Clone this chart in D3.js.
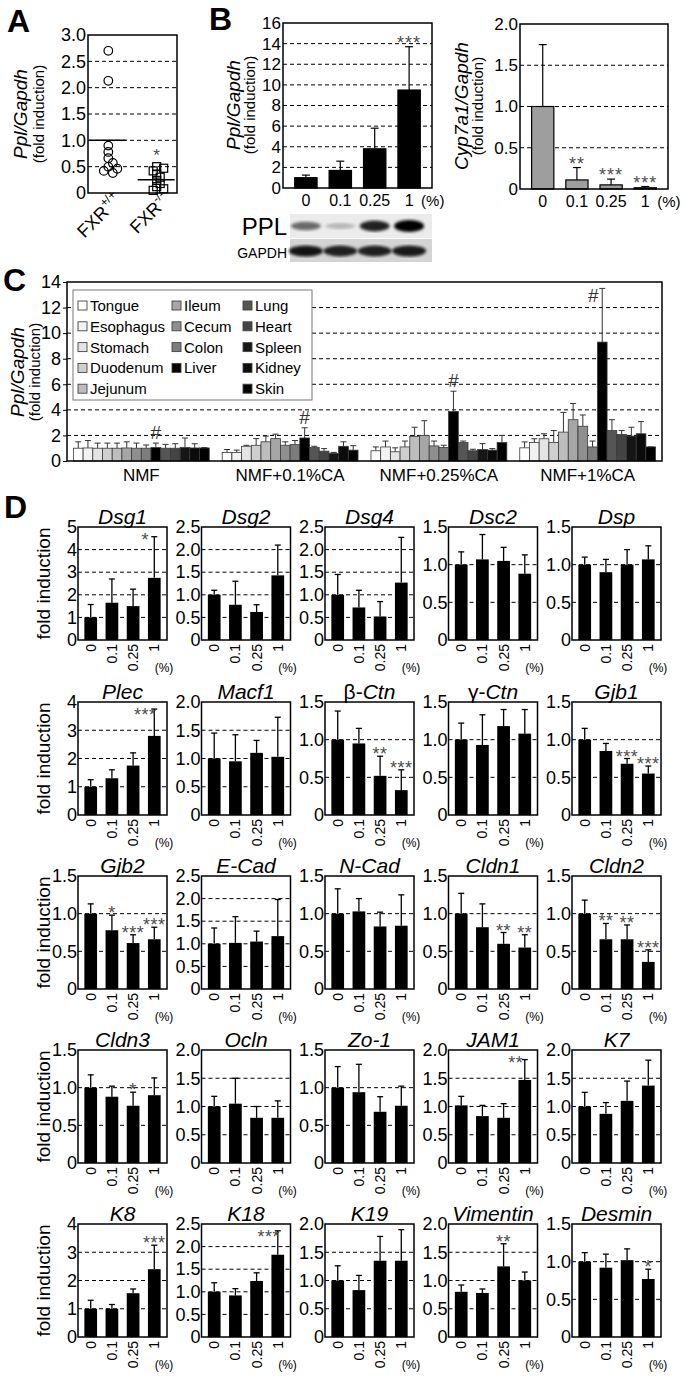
<!DOCTYPE html>
<html><head><meta charset="utf-8">
<script src="https://cdn.jsdelivr.net/npm/d3@7"></script>
<style>
body{margin:0;background:#fff;}
svg{display:block;font-family:"Liberation Sans",Arial,sans-serif;}
</style></head><body>
<svg id="fig" width="685" height="1377"></svg>
<script>
// ---------------- DATA ----------------
// Panel A
const fxrGenotypes = ["FXR+/+", "FXR-/-"];
const fxrWT = [2.7, 2.13, 0.9, 0.78, 0.66, 0.57, 0.5, 0.46, 0.42, 0.38];
const fxrKO = [0.5, 0.47, 0.42, 0.36, 0.3, 0.24, 0.18, 0.12, 0.08, 0.05];
const fxrMean = [1.0, 0.25];
const fxrStars = ["", "*"];
const fxrTicks = [0, 0.5, 1.0, 1.5, 2.0, 2.5, 3.0];

// Panel B
const caDoses = ["0", "0.1", "0.25", "1"];
const pplMean = [1.0, 1.7, 3.8, 9.5];
const pplErr = [1.25, 2.6, 5.8, 13.7];
const pplStars = ["", "", "", "***"];
const pplTicks = [0, 2, 4, 6, 8, 10, 12, 14, 16];
const cypMean = [1.0, 0.11, 0.05, 0.015];
const cypErr = [1.75, 0.26, 0.12, 0.03];
const cypStars = ["", "**", "***", "***"];
const cypTicks = [0, 0.5, 1.0, 1.5, 2.0];
const blotPPL = [0.55, 0.22, 0.85, 1.0];
const blotGAPDH = [0.9, 0.85, 0.85, 0.88];

// Panel C
const tissues = ["Tongue","Esophagus","Stomach","Duodenum","Jejunum","Ileum","Cecum","Colon","Liver","Lung","Heart","Spleen","Kidney","Skin"];
const tissueColors = ["#ffffff","#f2f2f2","#e4e4e4","#cfcfcf","#bdbdbd","#a6a6a6","#8f8f8f","#7d7d7d","#000000","#555555","#444444","#161616","#0b0b0b","#000000"];
const dietGroups = ["NMF","NMF+0.1%CA","NMF+0.25%CA","NMF+1%CA"];
const tissueNMF    = [1.0,1.02,1.0,1.0,1.0,1.02,1.0,1.0,1.05,1.0,1.0,1.05,1.02,1.02];
const tissueNMFErr = [1.5,1.6,1.4,1.4,1.4,1.5,1.4,1.25,1.4,1.3,1.35,1.8,1.35,1.05];
const tissueCA01    = [0.67,0.67,1.15,1.23,1.5,1.75,1.23,1.28,1.8,1.05,0.77,0.6,1.15,0.85];
const tissueCA01Err = [0.9,0.85,1.23,1.75,1.95,2.1,1.5,1.6,2.6,1.15,0.97,0.67,1.5,1.2];
const tissueCA025    = [0.8,1.1,0.72,1.1,1.92,2.0,1.18,1.05,3.87,1.44,0.8,0.9,0.85,1.44];
const tissueCA025Err = [1.1,1.56,1.03,1.56,2.64,3.15,1.56,1.23,5.46,1.56,0.92,1.36,0.97,2.0];
const tissueCA1    = [1.03,1.44,1.74,1.44,2.26,3.23,2.72,1.1,9.3,2.38,2.08,1.95,2.13,1.1];
const tissueCA1Err = [1.49,1.74,2.13,2.38,3.8,4.5,3.6,1.56,13.5,3.23,2.38,2.64,3.08,1.1];
const hashTissue = ["Liver","Liver","Liver","Liver"];
const tissueTicks = [0,2,4,6,8,10,12,14];

// Panel D
const geneNames = ["Dsg1","Dsg2","Dsg4","Dsc2","Dsp","Plec","Macf1","β-Ctn","γ-Ctn","Gjb1","Gjb2","E-Cad","N-Cad","Cldn1","Cldn2","Cldn3","Ocln","Zo-1","JAM1","K7","K8","K18","K19","Vimentin","Desmin"];
const geneYMax = [5,2.5,2.5,1.5,1.5, 4,2,1.5,1.5,1.5, 1.5,2.5,1.5,1.5,1.5, 1.5,2,1.5,2,2, 4,2.5,2,2,1.5];
const geneMeans = [
  [1.0,1.65,1.5,2.75],[1.0,0.78,0.62,1.43],[1.0,0.72,0.52,1.27],[1.0,1.07,1.05,0.88],[1.0,0.9,1.0,1.07],
  [1.0,1.3,1.75,2.8],[1.0,0.95,1.1,1.03],[1.0,0.95,0.52,0.33],[1.0,0.93,1.18,1.08],[1.0,0.85,0.68,0.55],
  [1.0,0.78,0.61,0.66],[1.0,1.02,1.05,1.17],[1.0,1.03,0.83,0.84],[1.0,0.82,0.6,0.55],[1.0,0.66,0.66,0.36],
  [1.0,0.88,0.76,0.9],[1.0,1.05,0.8,0.8],[1.0,0.94,0.68,0.76],[1.02,0.83,0.8,1.47],[1.0,0.87,1.1,1.37],
  [1.0,1.0,1.55,2.4],[1.0,0.92,1.24,1.82],[1.0,0.83,1.35,1.35],[0.8,0.78,1.25,1.0],[1.0,0.92,1.02,0.77]
];
const geneErrs = [
  [1.57,2.7,2.25,4.57],[1.1,1.3,0.78,2.1],[1.45,1.1,0.85,2.27],[1.17,1.4,1.23,1.13],[1.1,1.07,1.2,1.25],
  [1.25,1.6,2.2,3.75],[1.45,1.42,1.32,1.73],[1.38,1.15,0.78,0.6],[1.22,1.33,1.4,1.4],[1.15,0.95,0.75,0.65],
  [1.13,0.98,0.72,0.82],[1.35,1.6,1.28,1.98],[1.33,1.2,1.02,1.25],[1.27,1.13,0.75,0.72],[1.18,0.87,0.85,0.52],
  [1.17,1.02,0.94,1.13],[1.18,1.5,1.0,1.1],[1.28,1.31,0.88,1.02],[1.18,1.02,1.05,1.83],[1.25,1.07,1.45,1.82],
  [1.3,1.15,1.7,3.25],[1.2,1.07,1.42,2.35],[1.26,1.09,1.78,1.9],[0.92,0.85,1.65,1.15],[1.12,1.1,1.17,0.9]
];
const geneStars = [
  ["","","","*"],["","","",""],["","","",""],["","","",""],["","","",""],
  ["","","","***"],["","","",""],["","","**","***"],["","","",""],["","","***","***"],
  ["","*","***","***"],["","","",""],["","","",""],["","","**","**"],["","**","**","***"],
  ["","","*",""],["","","",""],["","","",""],["","","","**"],["","","",""],
  ["","","","***"],["","","","***"],["","","",""],["","","**",""],["","","","*"]
];

// ---------------- HELPERS ----------------
const svg = d3.select("#fig");
const DASH = "4,3";
const STAR = "#4d4d4d";

function panelLabel(t, x, y) {
  svg.append("text").attr("x", x).attr("y", y).attr("font-size", 32).attr("font-weight", "bold").text(t);
}
function drawFrame(g, w, h) {
  g.append("rect").attr("width", w).attr("height", h).attr("fill", "none").attr("stroke", "#000").attr("stroke-width", 1.5);
}
function drawGrid(g, y, vals, w) {
  g.selectAll(null).data(vals).join("line")
    .attr("x1", 0).attr("x2", w).attr("y1", d => y(d)).attr("y2", d => y(d))
    .attr("stroke", "#000").attr("stroke-width", 1).attr("stroke-dasharray", DASH);
}
function yAxis(g, y, ticks, fmt, size, tickSize) {
  const ax = g.append("g").call(d3.axisLeft(y).tickValues(ticks).tickFormat(fmt).tickSize(tickSize).tickPadding(2));
  ax.select(".domain").remove();
  ax.selectAll("text").attr("font-size", size).attr("fill", "#000").attr("font-family", null);
  ax.selectAll("line").attr("stroke", "#000");
  return ax;
}
const fmtDec = v => v === 0 ? "0" : d3.format(".1f")(v);
const fmtInt = v => d3.format("d")(v);

function yTitle(x, y, main, sub, mainSize, subSize, gap) {
  const g = svg.append("g").attr("transform", `translate(${x},${y}) rotate(-90)`);
  g.append("text").attr("text-anchor", "middle").attr("font-size", mainSize).attr("font-style", "italic").attr("y", 0).text(main);
  if (sub) g.append("text").attr("text-anchor", "middle").attr("font-size", subSize).attr("y", gap).text(sub);
}

// ---------------- PANEL A ----------------
panelLabel("A", 7, 32);
{
  const W = 89, H = 158;
  const g = svg.append("g").attr("transform", "translate(88,35)");
  const y = d3.scaleLinear().domain([0, 3]).range([H, 0]);
  const x = d3.scalePoint().domain(fxrGenotypes).range([0, W]).padding(0.42);
  drawGrid(g, y, [0.5, 1.0, 1.5, 2.0, 2.5], W);
  yAxis(g, y, fxrTicks, fmtDec, 18, 0);
  g.selectAll(null).data(fxrGenotypes).join("line")
    .attr("x1", d => x(d) - 19).attr("x2", d => x(d) + 18)
    .attr("y1", (d, i) => y(fxrMean[i])).attr("y2", (d, i) => y(fxrMean[i]))
    .attr("stroke", "#000").attr("stroke-width", 1.5);
  function swarm(vals, spread, thr) {
    const placed = [];
    return vals.map(v => {
      const py = y(v);
      const cands = [0];
      for (let k = 1; k < 6; k++) cands.push(k * spread, -k * spread);
      let dx = 0;
      for (const c of cands) {
        if (placed.every(p => Math.hypot(p.x - c, p.y - py) >= thr)) { dx = c; break; }
      }
      placed.push({ x: dx, y: py });
      return { v, dx, py };
    });
  }
  const wt = swarm(fxrWT, 4.5, 5.8);
  g.selectAll(null).data(wt).join("circle")
    .attr("cx", d => x(fxrGenotypes[0]) + d.dx).attr("cy", d => d.py).attr("r", 4.3)
    .attr("fill", "none").attr("stroke", "#000").attr("stroke-width", 1.2);
  const ko = swarm(fxrKO, 3.5, 4.6);
  g.selectAll(null).data(ko).join("rect")
    .attr("x", d => x(fxrGenotypes[1]) + d.dx - 4).attr("y", d => d.py - 4).attr("width", 8).attr("height", 8)
    .attr("fill", "none").attr("stroke", "#000").attr("stroke-width", 1.2);
  g.selectAll(null).data(fxrGenotypes).join("text")
    .attr("x", d => x(d)).attr("y", (d, i) => y(d3.max(i ? fxrKO : fxrWT)) - 6)
    .attr("text-anchor", "middle").attr("font-size", 17).attr("fill", STAR)
    .text((d, i) => fxrStars[i]);
  drawFrame(g, W, H);
  fxrGenotypes.forEach(d => {
    const t = g.append("text").attr("transform", `translate(${x(d) + 14},${H + 8}) rotate(-45)`)
      .attr("text-anchor", "end").attr("font-size", 18);
    t.append("tspan").text(d.slice(0, 3));
    t.append("tspan").attr("font-size", 12).attr("dy", -8).text(d.slice(3));
  });
  yTitle(27, 114, "Ppl/Gapdh", "(fold induction)", 19, 15, 17);
}

// ---------------- PANEL B ----------------
panelLabel("B", 209, 30);
function barPanel(tx, ty, W, H, yMax, ticks, fmt, means, errs, stars, fill) {
  const g = svg.append("g").attr("transform", `translate(${tx},${ty})`);
  const y = d3.scaleLinear().domain([0, yMax]).range([H, 0]);
  const x = d3.scaleBand().domain(caDoses).range([0, W]).paddingInner(0.35).paddingOuter(0.34);
  drawGrid(g, y, ticks.slice(1, -1), W);
  yAxis(g, y, ticks, fmt, 17, 0);
  const cx = d => x(d) + x.bandwidth() / 2;
  g.selectAll(null).data(caDoses).join("line")
    .attr("x1", cx).attr("x2", cx)
    .attr("y1", (d, i) => y(means[i])).attr("y2", (d, i) => y(errs[i]))
    .attr("stroke", "#000").attr("stroke-width", 1.2);
  g.selectAll(null).data(caDoses).join("line")
    .attr("x1", d => cx(d) - 4).attr("x2", d => cx(d) + 4)
    .attr("y1", (d, i) => y(errs[i])).attr("y2", (d, i) => y(errs[i]))
    .attr("stroke", "#000").attr("stroke-width", 1.2);
  g.selectAll(null).data(caDoses).join("rect")
    .attr("x", d => x(d)).attr("width", x.bandwidth())
    .attr("y", (d, i) => y(means[i])).attr("height", (d, i) => H - y(means[i]))
    .attr("fill", fill).attr("stroke", "#000").attr("stroke-width", 1.2);
  g.selectAll(null).data(caDoses).join("text")
    .attr("x", cx).attr("y", (d, i) => Math.max(y(errs[i]) + 2, 17))
    .attr("text-anchor", "middle").attr("font-size", 18).attr("letter-spacing", 1).attr("fill", STAR)
    .text((d, i) => stars[i]);
  drawFrame(g, W, H);
  g.selectAll(null).data(caDoses).join("text")
    .attr("x", cx).attr("y", H + 18)
    .attr("text-anchor", "middle").attr("font-size", 16).text(d => d);
  g.append("text").attr("x", cx(caDoses[3]) + 12).attr("y", H + 18)
    .attr("font-size", 15).text("(%)");
  return { g, x };
}
const bL = barPanel(283, 23, 149, 165, 16, pplTicks, fmtInt, pplMean, pplErr, pplStars, "#000");
yTitle(240, 105, "Ppl/Gapdh", "(fold induction)", 19, 15, 15);
const bR = barPanel(520, 24, 148, 165, 2.0, cypTicks, fmtDec, cypMean, cypErr, cypStars, "#9e9e9e");
yTitle(468, 106, "Cyp7a1/Gapdh", "(fold induction)", 19, 15, 15);

// western blot
{
  const defs = svg.append("defs");
  defs.append("filter").attr("id", "blur").append("feGaussianBlur").attr("stdDeviation", 1.6);
  const g = svg.append("g");
  g.append("rect").attr("x", 290).attr("y", 214).attr("width", 142).attr("height", 24).attr("fill", "#ebebeb");
  g.append("rect").attr("x", 290).attr("y", 239).attr("width", 142).attr("height", 23).attr("fill", "#d4d4d4");
  const cx = d => 283 + bL.x(d) + bL.x.bandwidth() / 2;
  g.selectAll(null).data(caDoses).join("ellipse")
    .attr("cx", cx).attr("cy", 226).attr("rx", 15).attr("ry", (d, i) => 2 + 4 * blotPPL[i])
    .attr("fill", "#000").attr("opacity", (d, i) => blotPPL[i]).attr("filter", "url(#blur)");
  g.selectAll(null).data(caDoses).join("ellipse")
    .attr("cx", cx).attr("cy", 251).attr("rx", 17).attr("ry", (d, i) => 2 + 4 * blotGAPDH[i])
    .attr("fill", "#000").attr("opacity", (d, i) => blotGAPDH[i]).attr("filter", "url(#blur)");
  g.append("text").attr("x", 287).attr("y", 235).attr("text-anchor", "end").attr("font-size", 24).text("PPL");
  g.append("text").attr("x", 287).attr("y", 258).attr("text-anchor", "end").attr("font-size", 14).text("GAPDH");
}

// ---------------- PANEL C ----------------
panelLabel("C", 3, 291);
{
  const W = 595, H = 179;
  const g = svg.append("g").attr("transform", "translate(67,282)");
  const y = d3.scaleLinear().domain([0, 14]).range([H, 0]);
  const x0 = d3.scaleBand().domain(dietGroups).range([0, W]).paddingInner(0.087).paddingOuter(0.043);
  const x1 = d3.scaleBand().domain(tissues).range([0, x0.bandwidth()]);
  drawGrid(g, y, tissueTicks.slice(1, -1), W);
  yAxis(g, y, tissueTicks, fmtInt, 18, 4);
  const means = [tissueNMF, tissueCA01, tissueCA025, tissueCA1];
  const errs = [tissueNMFErr, tissueCA01Err, tissueCA025Err, tissueCA1Err];
  dietGroups.forEach((grp, gi) => {
    const gg = g.append("g").attr("transform", `translate(${x0(grp)},0)`);
    const cx = t => x1(t) + x1.bandwidth() / 2;
    gg.selectAll(null).data(tissues).join("line")
      .attr("x1", cx).attr("x2", cx)
      .attr("y1", (t, i) => y(means[gi][i])).attr("y2", (t, i) => y(errs[gi][i]))
      .attr("stroke", "#333").attr("stroke-width", 1);
    gg.selectAll(null).data(tissues).join("line")
      .attr("x1", t => cx(t) - 3).attr("x2", t => cx(t) + 3)
      .attr("y1", (t, i) => y(errs[gi][i])).attr("y2", (t, i) => y(errs[gi][i]))
      .attr("stroke", "#333").attr("stroke-width", 1);
    gg.selectAll(null).data(tissues).join("rect")
      .attr("x", t => x1(t)).attr("width", x1.bandwidth())
      .attr("y", (t, i) => y(means[gi][i])).attr("height", (t, i) => H - y(means[gi][i]))
      .attr("fill", (t, i) => tissueColors[i]).attr("stroke", "#3a3a3a").attr("stroke-width", 0.8);
    const hi = tissues.indexOf(hashTissue[gi]);
    let hy = y(errs[gi][hi]) - 4, hx = cx(hashTissue[gi]);
    if (hy < 20) { hy = 20; hx -= 9; }
    gg.append("text").attr("x", hx).attr("y", hy).attr("text-anchor", "middle").attr("font-size", 19).attr("fill", "#333").text("#");
  });
  const lg = g.append("g").attr("transform", "translate(6,8)");
  lg.append("rect").attr("width", 239).attr("height", 110).attr("fill", "#fff").attr("stroke", "#777").attr("stroke-width", 1);
  const colOf = i => i < 5 ? 0 : (i < 9 ? 1 : 2);
  const rowOf = i => i < 5 ? i : (i < 9 ? i - 5 : i - 9);
  const colX = [5, 99, 170];
  lg.selectAll(null).data(tissues).join("rect")
    .attr("x", (t, i) => colX[colOf(i)]).attr("y", (t, i) => 11 + rowOf(i) * 20.8)
    .attr("width", 9).attr("height", 9)
    .attr("fill", (t, i) => tissueColors[i]).attr("stroke", "#444").attr("stroke-width", 0.9);
  lg.selectAll(null).data(tissues).join("text")
    .attr("x", (t, i) => colX[colOf(i)] + 12).attr("y", (t, i) => 21 + rowOf(i) * 20.8)
    .attr("font-size", 15).text(t => t);
  drawFrame(g, W, H);
  g.selectAll(null).data(dietGroups).join("text")
    .attr("x", d => x0(d) + x0.bandwidth() / 2).attr("y", H + 20)
    .attr("text-anchor", "middle").attr("font-size", 17).text(d => d);
  yTitle(24, 372, "Ppl/Gapdh", "(fold induction)", 19, 15, 16);
}

// ---------------- PANEL D ----------------
panelLabel("D", 4, 518);
{
  const W = 89, H = 113;
  const rowTop = [527, 702, 876, 1050, 1224];
  geneNames.forEach((name, gi) => {
    const r = Math.floor(gi / 5), c = gi % 5;
    const tx = 78 + c * 123.5, ty = rowTop[r];
    const g = svg.append("g").attr("transform", `translate(${tx},${ty})`);
    const yMax = geneYMax[gi];
    const step = yMax >= 3 ? 1 : 0.5;
    const ticks = d3.range(0, yMax + 1e-9, step);
    const y = d3.scaleLinear().domain([0, yMax]).range([H, 0]);
    const x = d3.scaleBand().domain(caDoses).range([0, W]).paddingInner(0.4).paddingOuter(0.3);
    drawGrid(g, y, ticks.slice(1, -1), W);
    yAxis(g, y, ticks, step >= 1 ? fmtInt : fmtDec, 18, 0).selectAll("text").attr("dx", 1);
    const cx = d => x(d) + x.bandwidth() / 2;
    const m = geneMeans[gi], e = geneErrs[gi], s = geneStars[gi];
    g.selectAll(null).data(caDoses).join("line")
      .attr("x1", cx).attr("x2", cx).attr("y1", (d, i) => y(m[i])).attr("y2", (d, i) => y(e[i]))
      .attr("stroke", "#000").attr("stroke-width", 1.3);
    g.selectAll(null).data(caDoses).join("line")
      .attr("x1", d => cx(d) - 3).attr("x2", d => cx(d) + 3).attr("y1", (d, i) => y(e[i])).attr("y2", (d, i) => y(e[i]))
      .attr("stroke", "#000").attr("stroke-width", 1.3);
    g.selectAll(null).data(caDoses).join("rect")
      .attr("x", d => x(d)).attr("width", x.bandwidth())
      .attr("y", (d, i) => y(m[i])).attr("height", (d, i) => H - y(m[i])).attr("fill", "#000");
    const MINY = 19;
    g.selectAll(null).data(caDoses).join("text")
      .attr("x", (d, i) => cx(d) - (y(e[i]) + 4 < MINY ? 9 : 0))
      .attr("y", (d, i) => Math.max(y(e[i]) + 4, MINY))
      .attr("text-anchor", "middle").attr("font-size", 18).attr("letter-spacing", 0.5).attr("fill", STAR)
      .text((d, i) => s[i]);
    drawFrame(g, W, H);
    const t = g.append("text").attr("x", W / 2).attr("y", -3).attr("text-anchor", "middle").attr("font-size", 21);
    const greek = /^[α-ω]/.test(name);
    if (greek) {
      t.append("tspan").text(name.slice(0, 2));
      t.append("tspan").attr("font-style", "italic").text(name.slice(2));
    } else {
      t.attr("font-style", "italic").text(name);
    }
    g.selectAll(null).data(caDoses).join("text")
      .attr("transform", d => `translate(${cx(d) + 5},${H + 4}) rotate(-90)`)
      .attr("text-anchor", "end").attr("font-size", 14).text(d => d);
    g.append("text").attr("x", W - 3).attr("y", H + 32).attr("text-anchor", "middle").attr("font-size", 12).text("(%)");
    if (c === 0) {
      svg.append("text").attr("transform", `translate(50,${ty + H / 2}) rotate(-90)`)
        .attr("text-anchor", "middle").attr("font-size", 19).text("fold induction");
    }
  });
}
</script></body></html>
